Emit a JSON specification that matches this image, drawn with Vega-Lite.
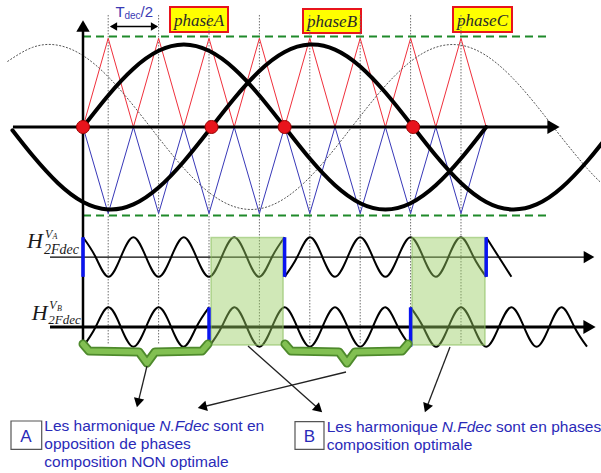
{
  "$schema": "https://vega.github.io/schema/vega-lite/v6.json",
  "width": 601,
  "height": 473,
  "autosize": {"type": "none"},
  "padding": 0,
  "background": "white",
  "config": {"view": {"stroke": null}},
  "datasets": {
    "phaseBoxes": [
      {"x": 3.4524, "x2": 5.7539, "y": 1.3529, "y2": 1.071},
      {"x": 8.7301, "x2": 11.0317, "y": 1.3303, "y2": 1.0598},
      {"x": 14.6825, "x2": 17.0238, "y": 1.3529, "y2": 1.071}
    ],
    "phaseLabels": [
      {"s": "phaseA", "x": 4.6031, "y": 1.1443},
      {"s": "phaseB", "x": 9.8809, "y": 1.133},
      {"s": "phaseC", "x": 15.8531, "y": 1.1443}
    ],
    "grid": [
      {"x": 1, "y": 1.263, "y2": -2.446},
      {"x": 3, "y": 1.263, "y2": -2.446},
      {"x": 5, "y": 1.263, "y2": -2.446},
      {"x": 7, "y": 1.263, "y2": -2.446},
      {"x": 9, "y": 1.263, "y2": -2.446},
      {"x": 11, "y": 1.263, "y2": -2.446},
      {"x": 13, "y": 1.263, "y2": -2.446},
      {"x": 15, "y": 1.263, "y2": -2.446}
    ],
    "dash": [
      {"x": 0, "x2": 18.53, "y": 1.02},
      {"x": 0, "x2": 18.53, "y": -0.998}
    ],
    "red": [
      {"x": 0, "y": 0}, {"x": 1, "y": 1}, {"x": 2, "y": 0}, {"x": 3, "y": 1}, {"x": 4, "y": 0},
      {"x": 5, "y": 1}, {"x": 6, "y": 0}, {"x": 7, "y": 1}, {"x": 8, "y": 0}, {"x": 9, "y": 1},
      {"x": 10, "y": 0}, {"x": 11, "y": 1}, {"x": 12, "y": 0}, {"x": 13, "y": 1}, {"x": 14, "y": 0},
      {"x": 15, "y": 1}, {"x": 16, "y": 0}
    ],
    "blue": [
      {"x": 0, "y": 0}, {"x": 1, "y": -0.975}, {"x": 2, "y": 0}, {"x": 3, "y": -0.975}, {"x": 4, "y": 0},
      {"x": 5, "y": -0.975}, {"x": 6, "y": 0}, {"x": 7, "y": -0.975}, {"x": 8, "y": 0}, {"x": 9, "y": -0.975},
      {"x": 10, "y": 0}, {"x": 11, "y": -0.975}, {"x": 12, "y": 0}, {"x": 13, "y": -0.975}, {"x": 14, "y": 0},
      {"x": 15, "y": -0.975}, {"x": 16, "y": 0}
    ],
    "phA": [
      {"x": 0, "y": 0}, {"x": 1, "y": 0.356}, {"x": 2, "y": 0.657}, {"x": 3, "y": 0.859}, {"x": 4, "y": 0.93},
      {"x": 5, "y": 0.859}, {"x": 6, "y": 0.657}, {"x": 7, "y": 0.356}, {"x": 8, "y": 0}, {"x": 9, "y": -0.356},
      {"x": 10, "y": -0.657}, {"x": 11, "y": -0.859}, {"x": 12, "y": -0.93}, {"x": 13, "y": -0.859},
      {"x": 14, "y": -0.657}, {"x": 15, "y": -0.356}, {"x": 16, "y": 0}
    ],
    "phB": [
      {"x": -2.8, "y": -0.037}, {"x": -2, "y": -0.322}, {"x": -1, "y": -0.631}, {"x": 0, "y": -0.845},
      {"x": 1, "y": -0.929}, {"x": 2, "y": -0.873}, {"x": 3, "y": -0.683}, {"x": 4, "y": -0.389},
      {"x": 5, "y": -0.037}, {"x": 6, "y": 0.322}, {"x": 7, "y": 0.631}, {"x": 8, "y": 0.845},
      {"x": 9, "y": 0.929}, {"x": 10, "y": 0.873}, {"x": 11, "y": 0.683}, {"x": 12, "y": 0.389},
      {"x": 13, "y": 0.037}, {"x": 14, "y": -0.322}, {"x": 15, "y": -0.631}, {"x": 16, "y": -0.845},
      {"x": 17, "y": -0.929}, {"x": 18, "y": -0.873}, {"x": 19, "y": -0.683}, {"x": 20, "y": -0.389},
      {"x": 20.6, "y": -0.181}
    ],
    "phC": [
      {"x": -3, "y": 0.738}, {"x": -2, "y": 0.898}, {"x": -1, "y": 0.922}, {"x": 0, "y": 0.805},
      {"x": 1, "y": 0.566}, {"x": 2, "y": 0.241}, {"x": 3, "y": -0.121}, {"x": 4, "y": -0.465},
      {"x": 5, "y": -0.738}, {"x": 6, "y": -0.898}, {"x": 7, "y": -0.922}, {"x": 8, "y": -0.805},
      {"x": 9, "y": -0.566}, {"x": 10, "y": -0.241}, {"x": 11, "y": 0.121}, {"x": 12, "y": 0.465},
      {"x": 13, "y": 0.738}, {"x": 14, "y": 0.898}, {"x": 15, "y": 0.922}, {"x": 16, "y": 0.805},
      {"x": 17, "y": 0.566}, {"x": 18, "y": 0.241}, {"x": 19, "y": -0.121}, {"x": 20, "y": -0.465},
      {"x": 20.6, "y": -0.64}
    ],
    "dots": [
      {"x": 0, "y": 0}, {"x": 5.1, "y": 0}, {"x": 8, "y": 0}, {"x": 13.1, "y": 0}
    ],
    "hThick": [
      {"x": -2.78, "x2": 18.53, "y": 0},
      {"x": -1.31, "x2": 19.9, "y": -2.255}
    ],
    "hThin": [
      {"x": -1.31, "x2": 19.9, "y": -1.466}
    ],
    "vAxis": [
      {"x": 0, "y": 1.09, "y2": -2.469}
    ],
    "upHead": [{"x": 0, "y": 1.139}],
    "rightHeads": [{"x": 18.67, "y": 0}, {"x": 20.1, "y": -2.255}],
    "vaHead": [{"x": 20.08, "y": -1.466}],
    "tdecLine": [{"x": 1.13, "x2": 2.92, "y": 1.133}],
    "tdecL": [{"x": 1.21, "y": 1.133}],
    "tdecR": [{"x": 2.837, "y": 1.133}],
    "tdecT": [{"s": "T", "x": 1.2896, "y": 1.2401}],
    "tdecSub": [{"s": "dec", "x": 1.6468, "y": 1.2176}],
    "tdecEnd": [{"s": "/2", "x": 2.2817, "y": 1.2401}],
    "va": [
      {"s": 1, "x": 0, "y": -1.243}, {"s": 1, "x": 0.5, "y": -1.466}, {"s": 1, "x": 1, "y": -1.689},
      {"s": 1, "x": 1.5, "y": -1.466}, {"s": 1, "x": 2, "y": -1.243}, {"s": 1, "x": 2.5, "y": -1.466},
      {"s": 1, "x": 3, "y": -1.689}, {"s": 1, "x": 3.5, "y": -1.466}, {"s": 1, "x": 4, "y": -1.243},
      {"s": 1, "x": 4.5, "y": -1.466}, {"s": 1, "x": 5, "y": -1.689}, {"s": 1, "x": 5.5, "y": -1.466},
      {"s": 1, "x": 6, "y": -1.243}, {"s": 1, "x": 6.5, "y": -1.466}, {"s": 1, "x": 7, "y": -1.689},
      {"s": 1, "x": 7.5, "y": -1.466}, {"s": 1, "x": 8, "y": -1.243},
      {"s": 2, "x": 8, "y": -1.689}, {"s": 2, "x": 8.5, "y": -1.466}, {"s": 2, "x": 9, "y": -1.243},
      {"s": 2, "x": 9.5, "y": -1.466}, {"s": 2, "x": 10, "y": -1.689}, {"s": 2, "x": 10.5, "y": -1.466},
      {"s": 2, "x": 11, "y": -1.243}, {"s": 2, "x": 11.5, "y": -1.466}, {"s": 2, "x": 12, "y": -1.689},
      {"s": 2, "x": 12.5, "y": -1.466}, {"s": 2, "x": 13, "y": -1.243}, {"s": 2, "x": 13.5, "y": -1.466},
      {"s": 2, "x": 14, "y": -1.689}, {"s": 2, "x": 14.5, "y": -1.466}, {"s": 2, "x": 15, "y": -1.243},
      {"s": 2, "x": 15.5, "y": -1.466}, {"s": 2, "x": 16, "y": -1.689},
      {"s": 3, "x": 16, "y": -1.243}, {"s": 3, "x": 16.5, "y": -1.466}, {"s": 3, "x": 17, "y": -1.689}
    ],
    "vb": [
      {"s": 1, "x": 0, "y": -2.477}, {"s": 1, "x": 0.5, "y": -2.255}, {"s": 1, "x": 1, "y": -2.033},
      {"s": 1, "x": 1.5, "y": -2.255}, {"s": 1, "x": 2, "y": -2.477}, {"s": 1, "x": 2.5, "y": -2.255},
      {"s": 1, "x": 3, "y": -2.033}, {"s": 1, "x": 3.5, "y": -2.255}, {"s": 1, "x": 4, "y": -2.477},
      {"s": 1, "x": 4.5, "y": -2.255}, {"s": 1, "x": 5, "y": -2.033},
      {"s": 2, "x": 5, "y": -2.477}, {"s": 2, "x": 5.5, "y": -2.255}, {"s": 2, "x": 6, "y": -2.033},
      {"s": 2, "x": 6.5, "y": -2.255}, {"s": 2, "x": 7, "y": -2.477}, {"s": 2, "x": 7.5, "y": -2.255},
      {"s": 2, "x": 8, "y": -2.033}, {"s": 2, "x": 8.5, "y": -2.255}, {"s": 2, "x": 9, "y": -2.477},
      {"s": 2, "x": 9.5, "y": -2.255}, {"s": 2, "x": 10, "y": -2.033}, {"s": 2, "x": 10.5, "y": -2.255},
      {"s": 2, "x": 11, "y": -2.477}, {"s": 2, "x": 11.5, "y": -2.255}, {"s": 2, "x": 12, "y": -2.033},
      {"s": 2, "x": 12.5, "y": -2.255}, {"s": 2, "x": 13, "y": -2.477},
      {"s": 3, "x": 13, "y": -2.033}, {"s": 3, "x": 13.5, "y": -2.255}, {"s": 3, "x": 14, "y": -2.477},
      {"s": 3, "x": 14.5, "y": -2.255}, {"s": 3, "x": 15, "y": -2.033}, {"s": 3, "x": 15.5, "y": -2.255},
      {"s": 3, "x": 16, "y": -2.477}, {"s": 3, "x": 16.5, "y": -2.255}, {"s": 3, "x": 17, "y": -2.033},
      {"s": 3, "x": 17.5, "y": -2.255}, {"s": 3, "x": 18, "y": -2.477}, {"s": 3, "x": 18.5, "y": -2.255},
      {"s": 3, "x": 19, "y": -2.033}, {"s": 3, "x": 19.5, "y": -2.255}, {"s": 3, "x": 20, "y": -2.477}
    ],
    "jumps": [
      {"x": 0, "y": -1.243, "y2": -1.689},
      {"x": 8, "y": -1.243, "y2": -1.689},
      {"x": 16, "y": -1.243, "y2": -1.689},
      {"x": 5, "y": -2.033, "y2": -2.477},
      {"x": 13, "y": -2.033, "y2": -2.477}
    ],
    "gboxes": [
      {"x": 5.08, "x2": 7.94, "y": -1.246, "y2": -2.458},
      {"x": 13.056, "x2": 15.952, "y": -1.246, "y2": -2.458}
    ],
    "braces": [
      {"s": 1, "x": 0, "y": -2.4464}, {"s": 1, "x": 0.2381, "y": -2.5253}, {"s": 1, "x": 2.2222, "y": -2.5366},
      {"s": 1, "x": 2.5397, "y": -2.6606}, {"s": 1, "x": 2.8571, "y": -2.5366}, {"s": 1, "x": 4.7222, "y": -2.5253},
      {"s": 1, "x": 4.9603, "y": -2.4464},
      {"s": 2, "x": 8.0159, "y": -2.4464}, {"s": 2, "x": 8.254, "y": -2.5253}, {"s": 2, "x": 10.1587, "y": -2.5366},
      {"s": 2, "x": 10.4762, "y": -2.6606}, {"s": 2, "x": 10.7937, "y": -2.5366}, {"s": 2, "x": 12.6587, "y": -2.5253},
      {"s": 2, "x": 12.8968, "y": -2.4464}
    ],
    "arrows": [
      {"x": 2.5397, "y": -2.6945, "x2": 2.1825, "y2": -3.1093},
      {"x": 10.4365, "y": -2.7621, "x2": 4.7301, "y2": -3.1567},
      {"x": 6.5476, "y": -2.469, "x2": 9.3571, "y2": -3.1804},
      {"x": 14.5634, "y": -2.4803, "x2": 13.6309, "y2": -3.168}
    ],
    "headA": [{"x": 2.1825, "y": -3.1093}],
    "headB": [{"x": 4.7301, "y": -3.1567}],
    "headC": [{"x": 9.3571, "y": -3.1804}],
    "headD": [{"x": 13.6309, "y": -3.168}],
    "lboxes": [
      {"x": -2.8572, "x2": -1.6389, "y": -3.3145, "y2": -3.6336},
      {"x": 8.4126, "x2": 9.5634, "y": -3.3224, "y2": -3.6336}
    ],
    "letters": [
      {"s": "A", "x": -2.262, "y": -3.5513},
      {"s": "B", "x": 8.988, "y": -3.5513}
    ],
    "blueText": [
      {"s": "Les harmonique", "x": -1.5358, "y": -3.4239},
      {"s": "sont en", "x": 5.1706, "y": -3.4239},
      {"s": "opposition de phases", "x": -1.5358, "y": -3.6268},
      {"s": "composition NON optimale", "x": -1.5358, "y": -3.8365},
      {"s": "Les harmonique", "x": 9.6706, "y": -3.4419},
      {"s": "sont en phases", "x": 16.3888, "y": -3.4419},
      {"s": "composition optimale", "x": 9.6706, "y": -3.6415}
    ],
    "blueItalic": [
      {"s": "N.Fdec", "x": 3.0277, "y": -3.4239},
      {"s": "N.Fdec", "x": 14.2341, "y": -3.4419}
    ],
    "hBig": [
      {"s": "H", "x": -2.2223, "y": -1.3641},
      {"s": "H", "x": -2.0358, "y": -2.1759}
    ],
    "hV": [
      {"s": "V", "x": -1.508, "y": -1.2458},
      {"s": "V", "x": -1.3374, "y": -2.0575}
    ],
    "hSub": [
      {"s": "A", "x": -1.2104, "y": -1.2683},
      {"s": "B", "x": -1.0318, "y": -2.08}
    ],
    "h2F1": [{"s": "2Fdec", "x": -1.5476, "y": -1.4262}],
    "h2F2": [{"s": "2Fdec", "x": -1.377, "y": -2.2266}]
  },
  "encoding": {
    "x": {"field": "x", "type": "quantitative", "axis": null, "scale": {"domain": [-3.2937, 20.5556], "nice": false, "zero": false}},
    "y": {"field": "y", "type": "quantitative", "axis": null, "scale": {"domain": [-3.9008, 1.4318], "nice": false, "zero": false}}
  },
  "layer": [
    {"data": {"name": "phaseBoxes"}, "mark": {"type": "rect", "fill": "#ffff00", "stroke": "#e8141c", "strokeWidth": 2},
     "encoding": {"x2": {"field": "x2"}, "y2": {"field": "y2"}}},
    {"data": {"name": "grid"}, "mark": {"type": "rule", "color": "#6e6e6e", "strokeWidth": 1, "strokeDash": [1.5, 1.5]},
     "encoding": {"y2": {"field": "y2"}}},
    {"data": {"name": "dash"}, "mark": {"type": "rule", "color": "#1f8a2a", "strokeWidth": 2, "strokeDash": [8, 5]},
     "encoding": {"x2": {"field": "x2"}}},
    {"data": {"name": "red"}, "mark": {"type": "line", "color": "#f0303c", "strokeWidth": 1}},
    {"data": {"name": "blue"}, "mark": {"type": "line", "color": "#3838b8", "strokeWidth": 1}},
    {"data": {"name": "phC"}, "mark": {"type": "line", "color": "#555555", "strokeWidth": 1, "strokeDash": [2, 1.5], "interpolate": "natural"}},
    {"data": {"name": "hThick"}, "mark": {"type": "rule", "color": "black", "strokeWidth": 3},
     "encoding": {"x2": {"field": "x2"}}},
    {"data": {"name": "hThin"}, "mark": {"type": "rule", "color": "black", "strokeWidth": 1.2},
     "encoding": {"x2": {"field": "x2"}}},
    {"data": {"name": "vAxis"}, "mark": {"type": "rule", "color": "black", "strokeWidth": 2.5},
     "encoding": {"y2": {"field": "y2"}}},
    {"data": {"name": "upHead"}, "mark": {"type": "point", "shape": "triangle-up", "filled": true, "color": "black", "size": 180, "opacity": 1}},
    {"data": {"name": "rightHeads"}, "mark": {"type": "point", "shape": "triangle-right", "filled": true, "color": "black", "size": 200, "opacity": 1}},
    {"data": {"name": "vaHead"}, "mark": {"type": "point", "shape": "triangle-right", "filled": true, "color": "black", "size": 150, "opacity": 1}},
    {"data": {"name": "phA"}, "mark": {"type": "line", "color": "black", "strokeWidth": 4, "interpolate": "natural", "strokeCap": "round"}},
    {"data": {"name": "phB"}, "mark": {"type": "line", "color": "black", "strokeWidth": 4, "interpolate": "natural", "strokeCap": "round"}},
    {"data": {"name": "dots"}, "mark": {"type": "point", "shape": "circle", "filled": true, "fill": "#e8141c", "stroke": "#9a0000", "strokeWidth": 1, "size": 170, "opacity": 1}},
    {"data": {"name": "tdecLine"}, "mark": {"type": "rule", "color": "black", "strokeWidth": 1.3},
     "encoding": {"x2": {"field": "x2"}}},
    {"data": {"name": "tdecL"}, "mark": {"type": "point", "shape": "triangle-left", "filled": true, "color": "black", "size": 70, "opacity": 1}},
    {"data": {"name": "tdecR"}, "mark": {"type": "point", "shape": "triangle-right", "filled": true, "color": "black", "size": 70, "opacity": 1}},
    {"data": {"name": "tdecT"}, "mark": {"type": "text", "font": "Liberation Sans", "fontSize": 15, "color": "#3a3ab4", "align": "left", "baseline": "alphabetic"},
     "encoding": {"text": {"field": "s"}}},
    {"data": {"name": "tdecSub"}, "mark": {"type": "text", "font": "Liberation Sans", "fontSize": 10, "color": "#3a3ab4", "align": "left", "baseline": "alphabetic"},
     "encoding": {"text": {"field": "s"}}},
    {"data": {"name": "tdecEnd"}, "mark": {"type": "text", "font": "Liberation Sans", "fontSize": 15, "color": "#3a3ab4", "align": "left", "baseline": "alphabetic"},
     "encoding": {"text": {"field": "s"}}},
    {"data": {"name": "phaseLabels"}, "mark": {"type": "text", "font": "Liberation Serif", "fontStyle": "italic", "fontSize": 17, "color": "#2a2a2a", "align": "center", "baseline": "alphabetic"},
     "encoding": {"text": {"field": "s"}}},
    {"data": {"name": "va"}, "mark": {"type": "line", "color": "black", "strokeWidth": 2, "interpolate": "natural"},
     "encoding": {"detail": {"field": "s", "type": "nominal"}}},
    {"data": {"name": "vb"}, "mark": {"type": "line", "color": "black", "strokeWidth": 2, "interpolate": "natural"},
     "encoding": {"detail": {"field": "s", "type": "nominal"}}},
    {"data": {"name": "gboxes"}, "mark": {"type": "rect", "fill": "#96cd5f", "fillOpacity": 0.45, "stroke": "#8cbf60", "strokeOpacity": 0.6, "strokeWidth": 1.5},
     "encoding": {"x2": {"field": "x2"}, "y2": {"field": "y2"}}},
    {"data": {"name": "jumps"}, "mark": {"type": "rule", "color": "#0a14f0", "strokeWidth": 3.5},
     "encoding": {"y2": {"field": "y2"}}},
    {"data": {"name": "braces"}, "mark": {"type": "line", "color": "#4e8a2c", "strokeWidth": 9, "strokeCap": "round", "strokeJoin": "round"},
     "encoding": {"detail": {"field": "s", "type": "nominal"}}},
    {"data": {"name": "braces"}, "mark": {"type": "line", "color": "#82c052", "strokeWidth": 5.5, "strokeCap": "round", "strokeJoin": "round"},
     "encoding": {"detail": {"field": "s", "type": "nominal"}}},
    {"data": {"name": "arrows"}, "mark": {"type": "rule", "color": "#222222", "strokeWidth": 1.3},
     "encoding": {"x2": {"field": "x2"}, "y2": {"field": "y2"}}},
    {"data": {"name": "headA"}, "mark": {"type": "point", "shape": "triangle-up", "filled": true, "color": "black", "size": 110, "opacity": 1, "angle": 193.7}},
    {"data": {"name": "headB"}, "mark": {"type": "point", "shape": "triangle-up", "filled": true, "color": "black", "size": 110, "opacity": 1, "angle": 256.3}},
    {"data": {"name": "headC"}, "mark": {"type": "point", "shape": "triangle-up", "filled": true, "color": "black", "size": 110, "opacity": 1, "angle": 132.2}},
    {"data": {"name": "headD"}, "mark": {"type": "point", "shape": "triangle-up", "filled": true, "color": "black", "size": 110, "opacity": 1, "angle": 201}},
    {"data": {"name": "lboxes"}, "mark": {"type": "rect", "fill": "white", "stroke": "#555555", "strokeWidth": 1.2},
     "encoding": {"x2": {"field": "x2"}, "y2": {"field": "y2"}}},
    {"data": {"name": "letters"}, "mark": {"type": "text", "font": "Liberation Sans", "fontSize": 17, "color": "#2a2ab8", "align": "center", "baseline": "alphabetic"},
     "encoding": {"text": {"field": "s"}}},
    {"data": {"name": "blueText"}, "mark": {"type": "text", "font": "Liberation Sans", "fontSize": 15.5, "color": "#2a2ab8", "align": "left", "baseline": "alphabetic"},
     "encoding": {"text": {"field": "s"}}},
    {"data": {"name": "blueItalic"}, "mark": {"type": "text", "font": "Liberation Sans", "fontStyle": "italic", "fontSize": 15.5, "color": "#2a2ab8", "align": "left", "baseline": "alphabetic"},
     "encoding": {"text": {"field": "s"}}},
    {"data": {"name": "hBig"}, "mark": {"type": "text", "font": "Liberation Serif", "fontStyle": "italic", "fontSize": 22, "color": "#1a1a1a", "align": "left", "baseline": "alphabetic"},
     "encoding": {"text": {"field": "s"}}},
    {"data": {"name": "hV"}, "mark": {"type": "text", "font": "Liberation Serif", "fontStyle": "italic", "fontSize": 12, "color": "#1a1a1a", "align": "left", "baseline": "alphabetic"},
     "encoding": {"text": {"field": "s"}}},
    {"data": {"name": "hSub"}, "mark": {"type": "text", "font": "Liberation Serif", "fontStyle": "italic", "fontSize": 8, "color": "#1a1a1a", "align": "left", "baseline": "alphabetic"},
     "encoding": {"text": {"field": "s"}}},
    {"data": {"name": "h2F1"}, "mark": {"type": "text", "font": "Liberation Serif", "fontStyle": "italic", "fontSize": 14, "color": "#1a1a1a", "align": "left", "baseline": "alphabetic"},
     "encoding": {"text": {"field": "s"}}},
    {"data": {"name": "h2F2"}, "mark": {"type": "text", "font": "Liberation Serif", "fontStyle": "italic", "fontSize": 13, "color": "#1a1a1a", "align": "left", "baseline": "alphabetic"},
     "encoding": {"text": {"field": "s"}}}
  ]
}
